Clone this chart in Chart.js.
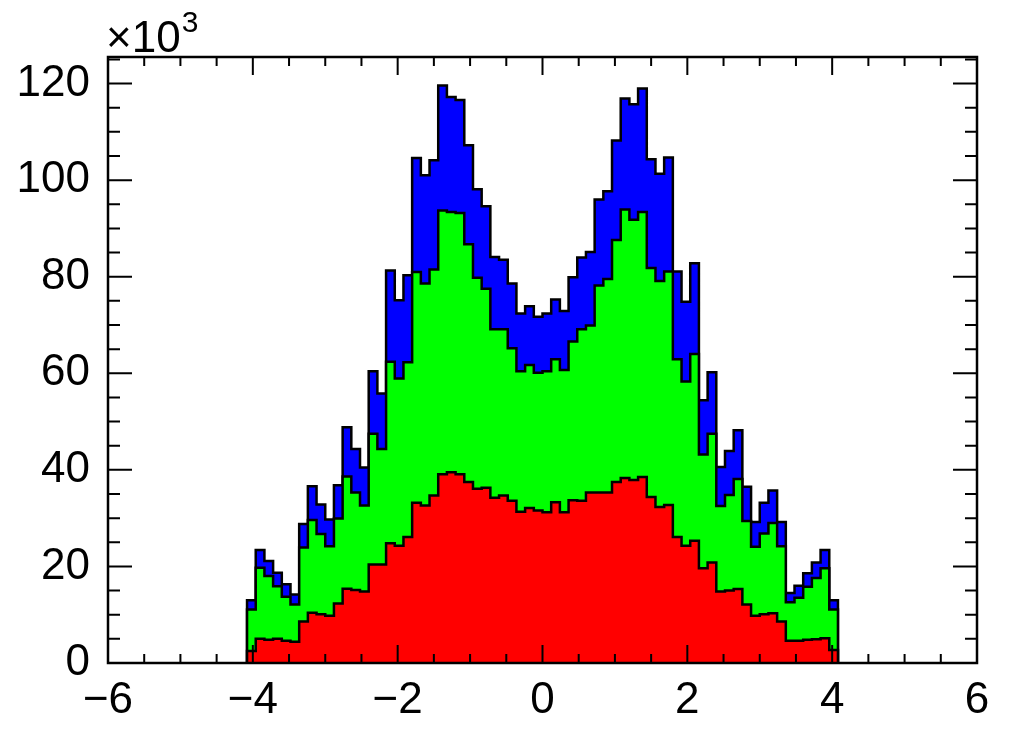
<!DOCTYPE html>
<html>
<head>
<meta charset="utf-8">
<script src="https://cdn.jsdelivr.net/npm/chart.js@4.4.1/dist/chart.umd.min.js"></script>
<style>
  html, body { margin: 0; padding: 0; background: #fff; }
  canvas { display: block; }
</style>
</head>
<body>
<canvas id="chart" width="1014" height="742"></canvas>
<script>
// Histogram definition: 100 bins from -6 to 6, only bins 16..83 are filled
const X_MIN = -6;
const X_MAX = 6;
const N_BINS = 100;
const FIRST_BIN = 16;
const Y_MAX = 125.5; // ROOT puts 5% headroom above the highest stack

const X_TICKS = [-6, -4, -2, 0, 2, 4, 6];
const Y_TICKS = [0, 20, 40, 60, 80, 100, 120];

// Bin contents in units of 10^3, one entry per filled bin (left to right)
const redCounts = [
  2.5, 5.0, 4.8, 5.0, 4.6, 4.4, 8.6, 10.4, 10.1, 9.8,
  12.3, 15.4, 15.1, 14.8, 20.4, 20.4, 24.8, 24.3, 26.1, 33.2,
  32.6, 34.7, 39.1, 39.5, 39.1, 37.5, 36.1, 36.3, 34.2, 34.7,
  33.6, 31.3, 32.1, 31.6, 31.2, 33.3, 31.2, 33.7, 33.6, 35.3,
  35.3, 35.3, 37.5, 38.3, 37.9, 38.5, 34.4, 32.3, 32.7, 26.1,
  24.3, 25.3, 19.6, 20.8, 14.8, 15.0, 15.3, 12.1, 9.8, 10.1,
  10.3, 8.6, 4.6, 4.6, 4.8, 4.9, 5.1, 2.7
];
const greenCounts = [
  8.6, 14.7, 13.2, 10.9, 9.1, 7.7, 15.3, 19.2, 16.6, 14.4,
  17.6, 23.2, 20.2, 17.8, 27.1, 23.9, 37.6, 34.6, 36.2, 47.8,
  46.0, 46.8, 54.6, 53.9, 54.1, 49.2, 43.7, 41.2, 34.9, 34.4,
  31.6, 29.1, 29.6, 28.5, 29.2, 29.6, 29.5, 32.9, 35.5, 34.6,
  42.9, 44.2, 50.1, 55.6, 53.9, 54.9, 47.4, 46.8, 48.4, 36.8,
  34.0, 38.7, 23.6, 26.7, 17.7, 19.8, 22.8, 17.3, 14.3, 16.7,
  18.7, 15.6, 8.0, 8.9, 11.0, 12.7, 14.5, 8.4
];
const blueCounts = [
  1.9, 3.7, 3.1, 2.8, 2.6, 2.1, 4.9, 7.0, 6.1, 5.5,
  6.9, 10.2, 9.0, 7.9, 12.9, 11.5, 18.9, 16.2, 18.0, 23.6,
  22.4, 22.6, 25.9, 23.8, 23.4, 20.5, 18.3, 17.1, 15.0, 14.4,
  13.4, 12.0, 12.2, 11.6, 12.0, 12.4, 12.2, 13.3, 14.9, 15.2,
  17.8, 18.2, 20.6, 23.0, 23.9, 25.6, 22.5, 22.2, 23.6, 18.2,
  16.5, 18.8, 11.2, 12.7, 8.1, 9.1, 10.1, 7.1, 5.1, 6.4,
  6.7, 5.0, 1.9, 2.5, 2.8, 3.2, 3.8, 1.9
];

const BIN_WIDTH = (X_MAX - X_MIN) / N_BINS;
const FONT = "'Liberation Sans', Arial, Helvetica, sans-serif";

// stack the three histograms like THStack does
const greenTop = greenCounts.map((v, i) => v + redCounts[i]);
const blueTop = blueCounts.map((v, i) => v + greenTop[i]);

// points at the bin low edges, closed down to zero on both ends
function stepPoints(values) {
  const pts = [{ x: X_MIN + FIRST_BIN * BIN_WIDTH, y: 0 }];
  values.forEach((v, i) => {
    pts.push({ x: X_MIN + (FIRST_BIN + i) * BIN_WIDTH, y: v });
  });
  pts.push({ x: X_MIN + (FIRST_BIN + values.length) * BIN_WIDTH, y: 0 });
  return pts;
}

function histDataset(values, color) {
  return {
    data: stepPoints(values),
    stepped: "before", // horizontal to the next edge, then vertical
    fill: "origin",
    backgroundColor: color,
    borderColor: "#000",
    borderWidth: 2.5,
    pointRadius: 0,
  };
}

function minusSign(value) {
  return String(value).replace("-", "\u2212");
}

// ROOT style frame: box around the pad with inward ticks on all sides
const frameTicks = {
  id: "frameTicks",
  afterDatasetsDraw(chart) {
    const { ctx, chartArea: a, scales } = chart;
    const x = scales.x;
    const y = scales.y;
    ctx.save();
    ctx.strokeStyle = "#000";
    ctx.lineWidth = 2;
    ctx.beginPath();

    // x: major every 2, minor every 0.5
    for (let i = 0; i <= 24; i++) {
      const v = X_MIN + i * 0.5;
      const len = i % 4 === 0 ? 18 : 9;
      const px = x.getPixelForValue(v);
      ctx.moveTo(px, a.bottom);
      ctx.lineTo(px, a.bottom - len);
      ctx.moveTo(px, a.top);
      ctx.lineTo(px, a.top + len);
    }
    // y: major every 20, minor every 5
    for (let i = 0; i * 5 <= Y_MAX; i++) {
      const v = i * 5;
      const len = i % 4 === 0 ? 24 : 12;
      const py = y.getPixelForValue(v);
      ctx.moveTo(a.left, py);
      ctx.lineTo(a.left + len, py);
      ctx.moveTo(a.right, py);
      ctx.lineTo(a.right - len, py);
    }
    ctx.stroke();
    ctx.lineWidth = 2.5;
    ctx.strokeRect(a.left, a.top, a.right - a.left, a.bottom - a.top);

    // exponent label above the y axis
    ctx.fillStyle = "#000";
    ctx.textBaseline = "alphabetic";
    ctx.textAlign = "left";
    ctx.font = "44px " + FONT;
    const base = "\u00d710";
    ctx.fillText(base, a.left - 2, 52);
    const w = ctx.measureText(base).width;
    ctx.font = "30px " + FONT;
    ctx.fillText("3", a.left - 1 + w, 32);
    ctx.restore();
  },
};

document.addEventListener("DOMContentLoaded", () => {
  const ctx = document.getElementById("chart").getContext("2d");
  new Chart(ctx, {
    type: "line",
    data: {
      // red first so it is painted last (on top)
      datasets: [
        histDataset(redCounts, "#ff0000"),
        histDataset(greenTop, "#00ff00"),
        histDataset(blueTop, "#0000ff"),
      ],
    },
    options: {
      responsive: false,
      animation: false,
      layout: { padding: { top: 57, right: 37, left: 0, bottom: 0 } },
      plugins: {
        legend: { display: false },
        tooltip: { enabled: false },
      },
      scales: {
        x: {
          type: "linear",
          min: X_MIN,
          max: X_MAX,
          afterFit: (s) => { s.height = 79; },
          afterBuildTicks: (s) => { s.ticks = X_TICKS.map((v) => ({ value: v })); },
          grid: { display: false, drawTicks: false },
          border: { display: false },
          ticks: {
            padding: 11,
            maxRotation: 0,
            color: "#000",
            font: { family: FONT, size: 44 },
            callback: (v) => minusSign(v),
          },
        },
        y: {
          type: "linear",
          min: 0,
          max: Y_MAX,
          afterFit: (s) => { s.width = 108; },
          afterBuildTicks: (s) => { s.ticks = Y_TICKS.map((v) => ({ value: v })); },
          grid: { display: false, drawTicks: false },
          border: { display: false },
          ticks: {
            padding: 18,
            color: "#000",
            font: { family: FONT, size: 44 },
          },
        },
      },
    },
    plugins: [frameTicks],
  });
});
</script>
</body>
</html>
